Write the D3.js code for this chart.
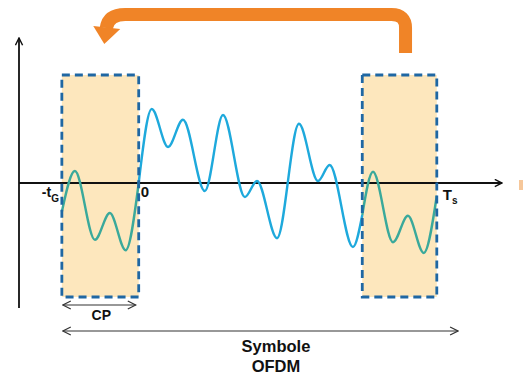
<!DOCTYPE html>
<html><head><meta charset="utf-8">
<script src="https://cdn.jsdelivr.net/npm/d3@7"></script>
<style>
html,body{margin:0;padding:0;background:#fff;}
svg{display:block;}
text{font-family:Arial,"Liberation Sans",sans-serif;font-weight:bold;fill:#111;}
</style></head>
<body>
<script>
// ---- data (time in samples, amplitude in arbitrary units) ----
const Ts = 64;
const tG = 16.5;
const tickLabels = ["-t", "0", "T"];
const boxes = [[-16.5, 0], [48, 64]];
const prefixT = [-16.5, -13.7, -9.4, -6.2, -2.8, 0];
const prefixA = [-0.36, 0.15, -0.71, -0.375, -0.84, 0];
const mainT = [0, 2.8, 6.3, 9.5, 14.2, 18.1, 22.8, 25.4, 29.7, 34.4, 38.5, 41.0, 46.0, 48];
const mainA = [0, 0.925, 0.45, 0.79, -0.1, 0.85, -0.175, 0.025, -0.69, 0.74, 0.025, 0.225, -0.8, -0.4];
const tailT = [48, 50.3, 54.6, 57.8, 61.2, 64];
const tailA = [-0.4, 0.14, -0.74, -0.41, -0.875, -0.16];

const W = 523, H = 377;
const svg = d3.select("body").append("svg").attr("width", W).attr("height", H);

const x = d3.scaleLinear().domain([-25.7, 78]).range([19, 502]);
const y = d3.scaleLinear().domain([-1.5625, 1.8125]).range([308, 38]);

const boxTop = 1.35, boxBottom = -1.425;

// boxes fill
svg.selectAll("rect.fill").data(boxes).enter().append("rect")
  .attr("x", d => x(d[0])).attr("y", y(boxTop))
  .attr("width", d => x(d[1]) - x(d[0])).attr("height", y(boxBottom) - y(boxTop))
  .attr("fill", "#fde7bd");

// axes
const defs = svg.append("defs");
defs.append("marker").attr("id", "ah").attr("viewBox", "0 0 10 10")
  .attr("refX", 9).attr("refY", 5).attr("markerWidth", 5).attr("markerHeight", 5)
  .attr("orient", "auto").attr("markerUnits", "strokeWidth")
  .append("path").attr("d", "M1,1 L9,5 L1,9").attr("fill", "none").attr("stroke", "#111").attr("stroke-width", 1.6);
defs.append("marker").attr("id", "oa").attr("viewBox", "0 0 10 10")
  .attr("refX", 9).attr("refY", 5).attr("markerWidth", 9).attr("markerHeight", 9)
  .attr("orient", "auto-start-reverse").attr("markerUnits", "strokeWidth")
  .append("path").attr("d", "M1,1 L9,5 L1,9").attr("fill", "none").attr("stroke", "#333").attr("stroke-width", 1.2);

svg.append("line").attr("x1", x(-25.7)).attr("x2", x(78)).attr("y1", y(0)).attr("y2", y(0))
  .attr("stroke", "#111").attr("stroke-width", 1.8).attr("marker-end", "url(#ah)");
svg.append("line").attr("x1", x(-25.7)).attr("x2", x(-25.7)).attr("y1", y(-1.5625)).attr("y2", y(1.8125))
  .attr("stroke", "#111").attr("stroke-width", 1.8).attr("marker-end", "url(#ah)");

// signal
const line = d3.line().x(d => x(d[0])).y(d => y(d[1])).curve(d3.curveMonotoneX);
const seg = (T, A) => T.map((t, i) => [t, A[i]]);
svg.append("path").attr("d", line(seg(mainT, mainA))).attr("fill", "none")
  .attr("stroke", "#1ea9dc").attr("stroke-width", 2.4);
svg.append("path").attr("d", line(seg(prefixT, prefixA))).attr("fill", "none")
  .attr("stroke", "#3aa99b").attr("stroke-width", 2.4);
svg.append("path").attr("d", line(seg(tailT, tailA))).attr("fill", "none")
  .attr("stroke", "#3aa99b").attr("stroke-width", 2.4);

// dashed box borders
svg.selectAll("rect.border").data(boxes).enter().append("rect")
  .attr("x", d => x(d[0])).attr("y", y(boxTop))
  .attr("width", d => x(d[1]) - x(d[0])).attr("height", y(boxBottom) - y(boxTop))
  .attr("fill", "none").attr("stroke", "#1f67a3").attr("stroke-width", 2.8)
  .attr("stroke-dasharray", "8,5");

// labels
const l1 = svg.append("text").attr("x", x(-16.5) - 20).attr("y", 197).attr("font-size", 14);
l1.append("tspan").text(tickLabels[0]);
l1.append("tspan").attr("dy", 5).attr("font-size", 10).text("G");
svg.append("text").attr("x", x(0) + 2).attr("y", 197).attr("font-size", 15).text(tickLabels[1]);
const l3 = svg.append("text").attr("x", x(Ts) + 6).attr("y", 200).attr("font-size", 15);
l3.append("tspan").text(tickLabels[2]);
l3.append("tspan").attr("dy", 4).attr("font-size", 10).text("s");

// CP and Symbol arrows
svg.append("line").attr("x1", x(-16.5) + 1).attr("x2", x(0) - 3).attr("y1", 305).attr("y2", 305)
  .attr("stroke", "#333").attr("stroke-width", 1.1)
  .attr("marker-start", "url(#oa)").attr("marker-end", "url(#oa)");
svg.append("text").attr("x", (x(-16.5) + x(0)) / 2 + 1).attr("y", 320).attr("font-size", 14)
  .attr("text-anchor", "middle").text("CP");
svg.append("line").attr("x1", x(-16.5) + 1).attr("x2", 458).attr("y1", 331).attr("y2", 331)
  .attr("stroke", "#333").attr("stroke-width", 1.1)
  .attr("marker-start", "url(#oa)").attr("marker-end", "url(#oa)");
svg.append("text").attr("x", 276).attr("y", 352).attr("font-size", 16.5)
  .attr("text-anchor", "middle").text("Symbole");
svg.append("text").attr("x", 276).attr("y", 372).attr("font-size", 16.5)
  .attr("text-anchor", "middle").text("OFDM");

// orange copy arrow (from end of symbol to the CP)
const xr = x((boxes[1][0] + boxes[1][1]) / 2) + 6;
const xl = x((boxes[0][0] + boxes[0][1]) / 2) + 5;
svg.append("path")
  .attr("d", `M${xr},53 L${xr},28 Q${xr},14.5 ${xr - 14},14.5 L${xl + 20},14.5 Q${xl + 3},14.5 ${xl + 1},28`)
  .attr("fill", "none").attr("stroke", "#f08427").attr("stroke-width", 13);
svg.append("path")
  .attr("d", `M${xl - 12},26 L${xl + 15},29 L${xl - 1},44 Z`)
  .attr("fill", "#f08427");
svg.append("rect").attr("x", 519).attr("y", 180).attr("width", 4).attr("height", 10).attr("fill", "#f6c79a");
</script>
</body></html>
